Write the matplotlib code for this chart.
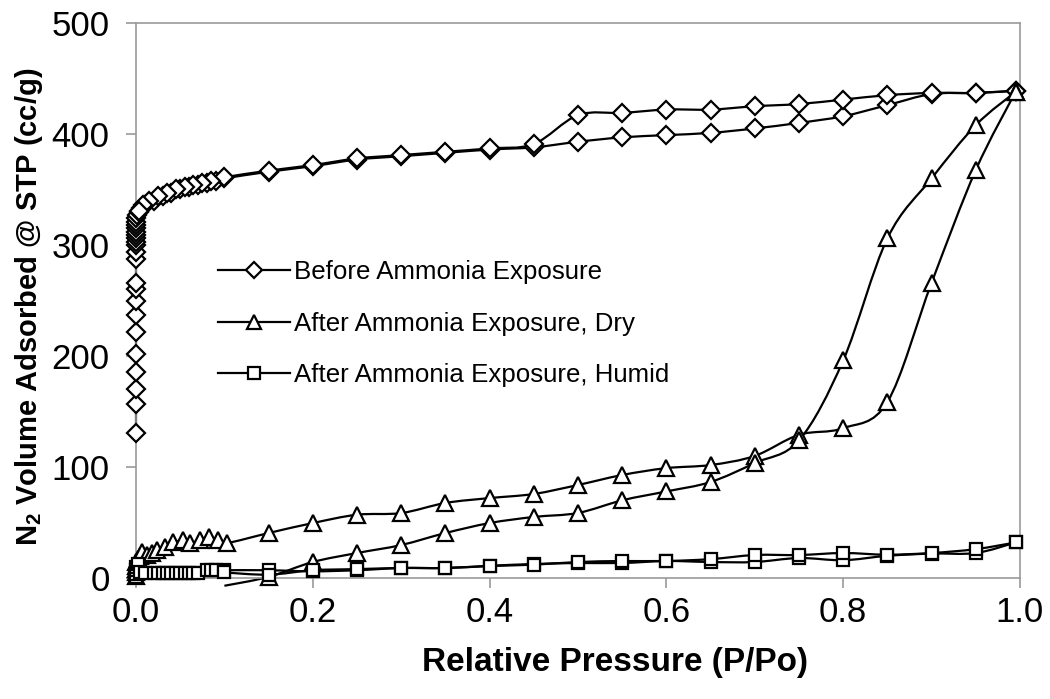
import numpy as np
import matplotlib
matplotlib.use("Agg")
import matplotlib.pyplot as plt
from matplotlib.path import Path
from matplotlib.patches import PathPatch
from matplotlib.lines import Line2D

plt.rcParams['font.family'] = ['Liberation Sans', 'DejaVu Sans']
plt.rcParams['mathtext.fontset'] = 'custom'
plt.rcParams['mathtext.rm'] = 'Liberation Sans'
plt.rcParams['mathtext.bf'] = 'Liberation Sans:bold'

# ---------------- data ----------------
# Before ammonia exposure: adsorption branch
before_ads_x = [0, 0, 0, 0, 0, 0, 0, 0, 0, 0, 0, 0, 0, 0, 0, 0, 0, 0, 0, 0, 0,
                0.001, 0.003, 0.006, 0.01, 0.02, 0.03, 0.04, 0.05, 0.06, 0.07, 0.08, 0.09, 0.1,
                0.15, 0.2, 0.25, 0.3, 0.35, 0.4, 0.45, 0.5, 0.55, 0.6, 0.65, 0.7, 0.75,
                0.8, 0.85, 0.9, 0.95, 0.995]
before_ads_y = [131, 157, 170, 186, 202, 222, 237, 250, 260, 266, 287, 294, 300, 303,
                306, 309, 312, 315, 318, 321, 324,
                327, 330, 333, 336, 340, 344, 347, 350, 352, 354, 356, 358, 360,
                366, 371, 377, 380, 383, 386, 388, 393, 397, 399, 401, 405, 410,
                416, 426, 436, 437, 439]
# Before ammonia exposure: desorption branch
before_des_x = [0.995, 0.95, 0.9, 0.85, 0.8, 0.75, 0.7, 0.65, 0.6, 0.55, 0.5, 0.45,
                0.4, 0.35, 0.3, 0.25, 0.2, 0.15, 0.1, 0.085, 0.075, 0.065, 0.055,
                0.045, 0.035, 0.025, 0.015, 0.008, 0.003]
before_des_y = [439, 437, 437, 435, 431, 427, 425, 422, 422, 419, 417, 391,
                387, 384, 381, 378, 372, 367, 361, 358, 356, 354, 352,
                350, 347, 344, 340, 336, 331]

# After ammonia exposure, dry
dry_ads_x = [0, 0, 0, 0, 0, 0.002, 0.004, 0.007, 0.012, 0.018, 0.024, 0.033, 0.042,
             0.053, 0.061, 0.072, 0.083, 0.093, 0.103, 0.15, 0.2, 0.25, 0.3, 0.35,
             0.4, 0.45, 0.5, 0.55, 0.6, 0.65, 0.7, 0.75, 0.8, 0.85, 0.9, 0.95, 0.995]
dry_ads_y = [2, 5, 8, 11, 14, 17, 20, 23, 21, 22.5, 25, 28, 32,
             34, 31.5, 34, 37, 34, 31.5, 40.5, 49.5, 57, 58.5, 67.6,
             72, 75.7, 83.8, 92.8, 99, 101.8, 110, 129, 135, 158.6, 266, 367.6, 438]
dry_des_x = [0.995, 0.95, 0.9, 0.85, 0.8, 0.75, 0.7, 0.65, 0.6, 0.55, 0.5, 0.45,
             0.4, 0.35, 0.3, 0.25, 0.2, 0.15, 0.1]
dry_des_y = [438, 408, 360, 306, 196, 124, 103.6, 86.5, 78, 70, 58.6, 55,
             49.5, 40.5, 29.7, 22.5, 14.4, 1, -7]

# After ammonia exposure, humid
humid_ads_x = [0, 0, 0, 0, 0.002, 0.005, 0.01, 0.02, 0.025, 0.03, 0.035, 0.04, 0.045,
               0.05, 0.055, 0.06, 0.065, 0.07, 0.08, 0.085, 0.09, 0.1,
               0.15, 0.2, 0.25, 0.3, 0.35, 0.4, 0.45, 0.5, 0.55, 0.6, 0.65, 0.7,
               0.75, 0.8, 0.85, 0.9, 0.95, 0.995]
humid_ads_y = [1, 4, 7, 10, 13, 5, 4.5, 4.5, 4.5, 4.5, 4.5, 4.5, 4.5,
               4.5, 4.5, 4.5, 4.5, 4.5, 7, 7.5, 7, 7,
               7, 6, 7, 9, 9, 11, 12.6, 13.5, 13.5, 15.3, 14.4, 14.4,
               18, 16, 20, 22, 22.5, 32]
humid_des_x = [0.995, 0.95, 0.9, 0.85, 0.8, 0.75, 0.7, 0.65, 0.6, 0.55, 0.5, 0.45,
               0.4, 0.35, 0.3, 0.25, 0.2, 0.15, 0.1]
humid_des_y = [32, 26, 22.5, 21, 22.5, 20.7, 20.7, 17, 15.3, 15.3, 14.4, 12,
               10.8, 9, 9, 8, 7, 3, 5]

labels = ["Before Ammonia Exposure", "After Ammonia Exposure, Dry",
          "After Ammonia Exposure, Humid"]
x_ticks = [0.0, 0.2, 0.4, 0.6, 0.8, 1.0]
y_ticks = [0, 100, 200, 300, 400, 500]

# ---------------- figure ----------------
W, H = 1050, 699
fig = plt.figure(figsize=(W / 100, H / 100), dpi=100)
L, R, T, B = 136, 1020, 23, 578
ax = fig.add_axes([L / W, 1 - B / H, (R - L) / W, (B - T) / H])
ax.set_xlim(0, 1.0)
ax.set_ylim(0, 500)

gray = '#999999'
for s in ax.spines.values():
    s.set_color(gray)
    s.set_linewidth(1.2)
ax.set_xticks(x_ticks)
ax.set_xticklabels([f"{v:.1f}" for v in x_ticks])
ax.set_yticks(y_ticks)
ax.tick_params(axis='both', direction='out', color=gray, width=1.2, length=7,
               labelsize=25, labelcolor='black')
ax.tick_params(axis='x', pad=6)
ax.tick_params(axis='y', pad=12)


def smooth(x, y, **kw):
    """Excel-style smoothed line drawn as cubic Bezier path through the data points."""
    fig.canvas.draw()
    tr = ax.transData
    P = tr.transform(np.column_stack([x, y]).astype(float))
    n = len(P)
    verts = [P[0]]
    codes = [Path.MOVETO]
    for i in range(n - 1):
        p0 = P[i - 1] if i > 0 else P[i]
        p1 = P[i]
        p2 = P[i + 1]
        p3 = P[i + 2] if i + 2 < n else P[i + 1]
        c1 = p1 + (p2 - p0) / 6.0
        c2 = p2 - (p3 - p1) / 6.0
        verts += [c1, c2, p2]
        codes += [Path.CURVE4] * 3
    verts = tr.inverted().transform(np.array(verts))
    patch = PathPatch(Path(verts, codes), fill=False, edgecolor='black',
                      linewidth=1.6, zorder=2, clip_on=False, **kw)
    ax.add_patch(patch)
    return patch


mk = dict(markerfacecolor='white', markeredgecolor='black', markeredgewidth=1.6,
          linestyle='none', zorder=3, clip_on=False)

series = [
    (before_ads_x, before_ads_y, 'D', 9.5),
    (before_des_x, before_des_y, 'D', 9.5),
    (dry_ads_x, dry_ads_y, '^', 12),
    (dry_des_x, dry_des_y, '^', 12),
    (humid_ads_x, humid_ads_y, 's', 9),
    (humid_des_x, humid_des_y, 's', 9),
]
for xs, ys, m, ms in series:
    smooth(xs, ys)
    xs_a = np.array(xs, float)
    ys_a = np.array(ys, float)
    vis = ys_a >= 0
    ax.plot(xs_a[vis], ys_a[vis], marker=m, markersize=ms, **mk)

handles = [
    Line2D([], [], color='black', lw=1.6, marker='D', markersize=8,
           markerfacecolor='white', markeredgecolor='black', markeredgewidth=1.6),
    Line2D([], [], color='black', lw=1.6, marker='^', markersize=10,
           markerfacecolor='white', markeredgecolor='black', markeredgewidth=1.6),
    Line2D([], [], color='black', lw=1.6, marker='s', markersize=8,
           markerfacecolor='white', markeredgecolor='black', markeredgewidth=1.6),
]
leg = ax.legend(handles, labels, loc='upper left',
                bbox_to_anchor=((218 - L) / (R - L), (B - 260) / (B - T)),
                frameon=False, fontsize=18.6, handlelength=2.8, handletextpad=0.15,
                labelspacing=1.07, borderpad=0, borderaxespad=0)

fig.text(615 / W, 1 - 663 / H, "Relative Pressure (P/Po)", ha='center', va='center',
         fontsize=24, fontweight='bold')
fig.text(29 / W, 1 - 307 / H, r"N$_{\mathbf{2}}$ Volume Adsorbed @ STP (cc/g)",
         ha='center', va='center', rotation=90, fontsize=21, fontweight='bold')

fig.savefig("out.png", dpi=100)
